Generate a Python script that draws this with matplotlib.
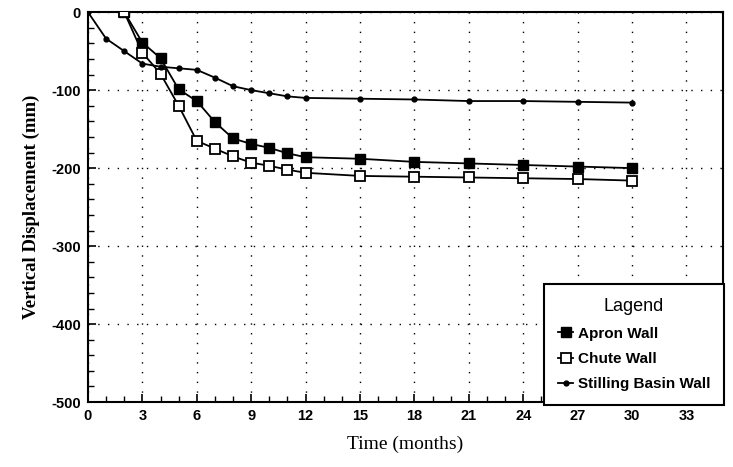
import matplotlib.pyplot as plt
from matplotlib.ticker import MultipleLocator

plt.rcParams["axes.unicode_minus"] = False

# data
months_apron = [2, 3, 4, 5, 6, 7, 8, 9, 10, 11, 12, 15, 18, 21, 24, 27, 30]
apron_wall = [0, -39, -59, -99, -114, -141, -162, -169, -174, -181, -186,
              -188, -192, -194, -196, -198, -200]

months_chute = [2, 3, 4, 5, 6, 7, 8, 9, 10, 11, 12, 15, 18, 21, 24, 27, 30]
chute_wall = [0, -52, -79, -120, -165, -175, -185, -193, -197, -202, -206,
              -210, -211, -212, -213, -214, -216]

months_basin = [0, 1, 2, 3, 4, 5, 6, 7, 8, 9, 10, 11, 12, 15, 18, 21, 24, 27, 30]
basin_wall = [0, -34, -50, -66, -70, -72, -74, -84, -95, -100, -104, -108, -110,
              -111, -112, -114, -114, -115, -116]

xticks = list(range(0, 34, 3))
yticks = [0, -100, -200, -300, -400, -500]

fig = plt.figure(figsize=(7.33, 4.67), dpi=100)
ax = fig.add_axes([0.120, 0.139, 0.866, 0.835])

ax.plot(months_apron, apron_wall, color="black", lw=1.3, marker="s", ms=6.5,
        mfc="black", mec="black", label="Apron Wall", zorder=3)
ax.plot(months_chute, chute_wall, color="black", lw=1.3, marker="s", ms=6.5,
        mfc="white", mec="black", mew=1.3, label="Chute Wall", zorder=3)
ax.plot(months_basin, basin_wall, color="black", lw=1.3, marker="o", ms=3.5,
        mfc="black", mec="black", label="Stilling Basin Wall", zorder=3)

ax.set_xlim(0, 35)
ax.set_ylim(-500, 0)
ax.set_xticks(xticks)
ax.set_yticks(yticks)
ax.xaxis.set_minor_locator(MultipleLocator(1))
ax.yaxis.set_minor_locator(MultipleLocator(20))
ax.tick_params(which="both", direction="in", color="black")
ax.tick_params(which="major", length=6, width=1.2, pad=5)
ax.tick_params(which="minor", length=4, width=1)

for lab in ax.get_xticklabels() + ax.get_yticklabels():
    lab.set_fontfamily("Liberation Sans")
    lab.set_fontweight("bold")
    lab.set_fontsize(10.5)

ax.grid(True, which="major", color="black", linestyle=(0, (1, 6)), linewidth=1)
for s in ax.spines.values():
    s.set_linewidth(1.5)

ax.set_xlabel("Time (months)", fontfamily="Liberation Serif", fontsize=14, labelpad=9)
ax.set_ylabel("Vertical Displacement (mm)", fontfamily="Liberation Serif",
              fontsize=13.5, fontweight="bold", labelpad=8)

leg = ax.legend(title="Lagend", loc="lower right", bbox_to_anchor=(1.002, -0.008),
                frameon=True, fancybox=False, edgecolor="black", framealpha=1,
                borderpad=0.9, labelspacing=0.75, handlelength=1.0, handletextpad=0.3,
                borderaxespad=0,
                prop={"family": "Liberation Sans", "weight": "bold", "size": 11})
leg.get_title().set_fontfamily("Liberation Sans")
leg.get_title().set_fontsize(13)
leg.get_frame().set_linewidth(1.5)
leg.set_zorder(5)

plt.savefig("out.png", dpi=100)
plt.close()
